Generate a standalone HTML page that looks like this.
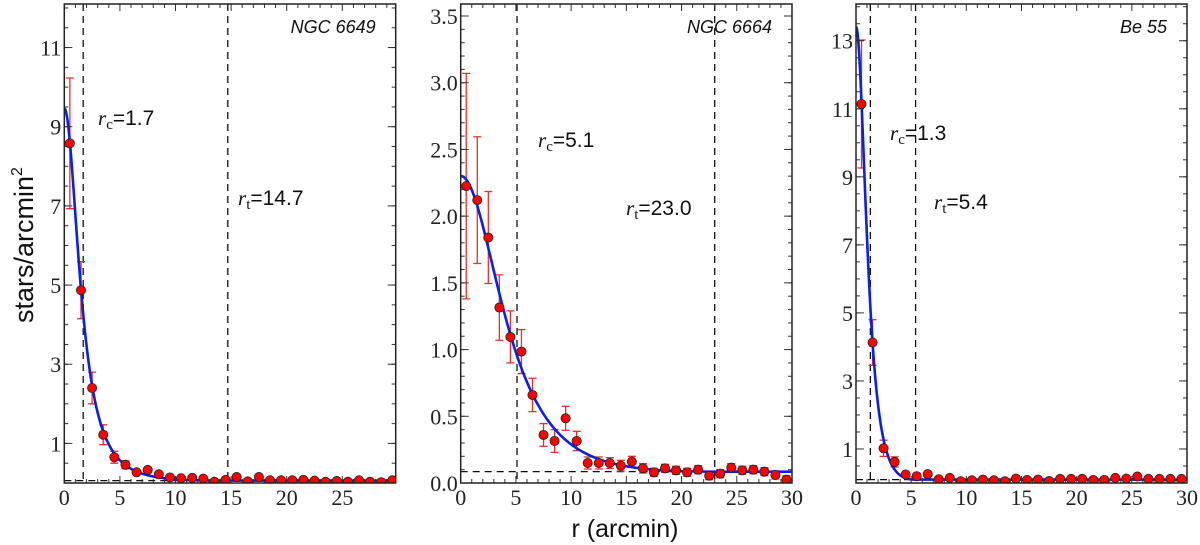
<!DOCTYPE html>
<html><head><meta charset="utf-8">
<style>
body{margin:0;background:#fff;}
svg{display:block;}
.tk{font-family:"Liberation Serif",serif;font-size:22px;fill:#222;}
.ann{font-family:"Liberation Sans",sans-serif;font-size:21px;fill:#111;}
.it{font-family:"Liberation Serif",serif;font-style:italic;}
.nm{font-family:"Liberation Sans",sans-serif;font-style:italic;font-size:18px;fill:#111;}
</style></head>
<body>
<svg id="chart" width="1200" height="545" xmlns="http://www.w3.org/2000/svg">
<text transform="translate(33,245) rotate(-90)" text-anchor="middle" font-family="Liberation Sans,sans-serif" font-size="27" fill="#111">stars/arcmin<tspan font-size="16" dy="-11">2</tspan></text>
<text x="625" y="537" text-anchor="middle" font-family="Liberation Sans,sans-serif" font-size="25" fill="#111">r (arcmin)</text>
</svg>
<script>
// ---- data ----
const radii = [0.5,1.5,2.5,3.5,4.5,5.5,6.5,7.5,8.5,9.5,10.5,11.5,12.5,13.5,14.5,15.5,16.5,17.5,18.5,19.5,20.5,21.5,22.5,23.5,24.5,25.5,26.5,27.5,28.5,29.5];
const names = ["NGC 6649","NGC 6664","Be 55"];
const dens1 = [8.58,4.87,2.40,1.22,0.65,0.46,0.27,0.33,0.22,0.14,0.12,0.13,0.11,0.03,0.08,0.15,0.04,0.15,0.07,0.07,0.07,0.08,0.06,0.03,0.05,0.03,0.07,0.03,0.02,0.07];
const err1  = [1.65,0.72,0.40,0.25,0.15,0.10,0.05,0.05,0.04,0.03,0.03,0.03,0.03,0.02,0.02,0.03,0.02,0.03,0.02,0.02,0.02,0.02,0.02,0.02,0.02,0.02,0.02,0.02,0.02,0.02];
const dens2 = [2.225,2.12,1.84,1.315,1.095,0.985,0.66,0.36,0.315,0.485,0.315,0.15,0.15,0.15,0.13,0.16,0.11,0.08,0.11,0.095,0.08,0.10,0.055,0.07,0.115,0.095,0.10,0.085,0.06,0.025];
const err2  = [0.845,0.475,0.345,0.245,0.195,0.165,0.125,0.085,0.085,0.09,0.072,0.045,0.045,0.04,0.04,0.04,0.035,0.03,0.03,0.03,0.03,0.03,0.03,0.03,0.03,0.03,0.03,0.03,0.03,0.03];
const dens3 = [11.14,4.13,1.02,0.62,0.25,0.20,0.26,0.11,0.15,0.05,0.08,0.10,0.08,0.05,0.13,0.09,0.10,0.06,0.12,0.12,0.12,0.09,0.09,0.15,0.13,0.19,0.12,0.12,0.12,0.12];
const err3  = [1.88,0.67,0.24,0.15,0.05,0.04,0.04,0.03,0.03,0.02,0.02,0.02,0.02,0.02,0.02,0.02,0.02,0.02,0.02,0.02,0.02,0.02,0.02,0.02,0.02,0.02,0.02,0.02,0.02,0.02];
const coreRadii = [1.7,5.1,1.3];
const tidalRadii = [14.7,23.0,5.4];
const centralK = [12.0,3.61,22.7];
const background = [0.06,0.085,0.10];
const yTicks1 = [1,3,5,7,9,11];
const yTicks2 = [0.0,0.5,1.0,1.5,2.0,2.5,3.0,3.5];
const yTicks3 = [1,3,5,7,9,11,13];
const xTicks1 = [0,5,10,15,20,25];
const xTicks23 = [0,5,10,15,20,25,30];

const NS="http://www.w3.org/2000/svg";
const svg=document.getElementById('chart');
function mk(tag,attrs,parent){const e=document.createElementNS(NS,tag);for(const k in attrs)e.setAttribute(k,attrs[k]);(parent||svg).appendChild(e);return e;}

const panels=[
 {L:64.3,R:395.7,T:4,B:483,xmax:29.8,ymin:0,ymax:12.1,dens:dens1,err:err1,yt:yTicks1,xt:xTicks1,ym:0.5,fmt:v=>String(v),rc:[98,125],rt:[238,205]},
 {L:460.7,R:792,T:4,B:483,xmax:30,ymin:0,ymax:3.59,dens:dens2,err:err2,yt:yTicks2,xt:xTicks23,ym:0.1,fmt:v=>v.toFixed(1),rc:[538,147],rt:[626,215]},
 {L:856,R:1187,T:4,B:483,xmax:30,ymin:0,ymax:14.08,dens:dens3,err:err3,yt:yTicks3,xt:xTicks23,ym:0.5,fmt:v=>String(v),rc:[890,140],rt:[934,209]}
];

panels.forEach((p,i)=>{
 const g=mk('g',{});
 
 
 const X=v=>p.L+(v/p.xmax)*(p.R-p.L);
 const Y=v=>p.B-(v-p.ymin)/(p.ymax-p.ymin)*(p.B-p.T);
 const cp=mk('clipPath',{id:'cp'+i},g);
 mk('rect',{x:p.L,y:p.T,width:p.R-p.L,height:p.B-p.T},cp);
 const inner=mk('g',{'clip-path':'url(#cp'+i+')'},g);
 for(let v=0;v<=p.xmax+1e-6;v+=1){const x=X(v);const big=Math.abs(v%5)<1e-6;const l=big?7:4;
  mk('line',{x1:x,x2:x,y1:p.B,y2:p.B-l,stroke:'#333','stroke-width':1},g);
  mk('line',{x1:x,x2:x,y1:p.T,y2:p.T+l,stroke:'#333','stroke-width':1},g);}
 for(let v=p.ymin;v<=p.ymax+1e-6;v+=p.ym){const y=Y(v);
  mk('line',{x1:p.L,x2:p.L+4,y1:y,y2:y,stroke:'#333','stroke-width':1},g);
  mk('line',{x1:p.R,x2:p.R-4,y1:y,y2:y,stroke:'#333','stroke-width':1},g);}
 p.yt.forEach(v=>{const y=Y(v);
  mk('line',{x1:p.L,x2:p.L+8,y1:y,y2:y,stroke:'#333','stroke-width':1},g);
  mk('line',{x1:p.R,x2:p.R-8,y1:y,y2:y,stroke:'#333','stroke-width':1},g);
  const t=mk('text',{x:p.L-3,y:y+8,'text-anchor':'end',class:'tk'},g);t.textContent=p.fmt(v);
  
  });
 p.xt.forEach(v=>{const t=mk('text',{x:X(v),y:p.B+22,'text-anchor':'middle',class:'tk'},g);t.textContent=String(v);
  
  });
 const dash={stroke:'#111','stroke-width':1.3,'stroke-dasharray':'7,5',fill:'none'};
 const bl=mk('line',Object.assign({x1:p.L,x2:p.R,y1:Y(background[i]),y2:Y(background[i])},dash),inner);
 
 
 [coreRadii[i],tidalRadii[i]].forEach((r,j)=>{const l=mk('line',Object.assign({x1:X(r),x2:X(r),y1:p.T,y2:p.B},dash),inner);
  
  });
 radii.forEach((r,k)=>{const x=X(r),v=p.dens[k],e=p.err[k];
  const eb=mk('g',{stroke:'#e8302a','stroke-width':1.3},inner);
  
  
  mk('line',{x1:x,x2:x,y1:Y(v+e),y2:Y(v-e)},eb);
  mk('line',{x1:x-4,x2:x+4,y1:Y(v+e),y2:Y(v+e)},eb);
  mk('line',{x1:x-4,x2:x+4,y1:Y(v-e),y2:Y(v-e)},eb);});
 let d='';const rc=coreRadii[i],rtd=tidalRadii[i],k0=centralK[i],bg=background[i];
 const ct=1/Math.sqrt(1+(rtd/rc)**2);
 for(let s=0;s<=400;s++){const r=s/400*p.xmax;let f=bg;
  if(r<rtd){const a=1/Math.sqrt(1+(r/rc)**2)-ct;f=bg+k0*a*a;}
  d+=(s?'L':'M')+X(r).toFixed(2)+','+Y(f).toFixed(2);}
 const fit=mk('path',{d:d,stroke:'#0a1ef0','stroke-width':2.6,fill:'none'},inner);
 
 
 radii.forEach((r,k)=>{const c=mk('circle',{cx:X(r),cy:Y(p.dens[k]),r:4.6,fill:'#f00',stroke:'#222','stroke-width':0.8},inner);
  
  });
 const fr=mk('rect',{x:p.L,y:p.T,width:p.R-p.L,height:p.B-p.T,fill:'none',stroke:'#222','stroke-width':1.5},g);
 
 
 const nm=mk('text',{x:p.R-20,y:33,'text-anchor':'end',class:'nm'},g);nm.textContent=names[i];
 
 
 [[p.rc,'c',coreRadii[i]],[p.rt,'t',tidalRadii[i]]].forEach(([pos,sub,val])=>{
  const t=mk('text',{x:pos[0],y:pos[1],class:'ann'},g);
  
  
  const a=mk('tspan',{class:'it'},t);a.textContent='r';
  const b=mk('tspan',{'font-family':'Liberation Serif,serif','font-size':'15',dy:'4'},t);b.textContent=sub;
  const c=mk('tspan',{dy:'-4'},t);c.textContent='='+val.toFixed(1);});
});
</script>
</body></html>
